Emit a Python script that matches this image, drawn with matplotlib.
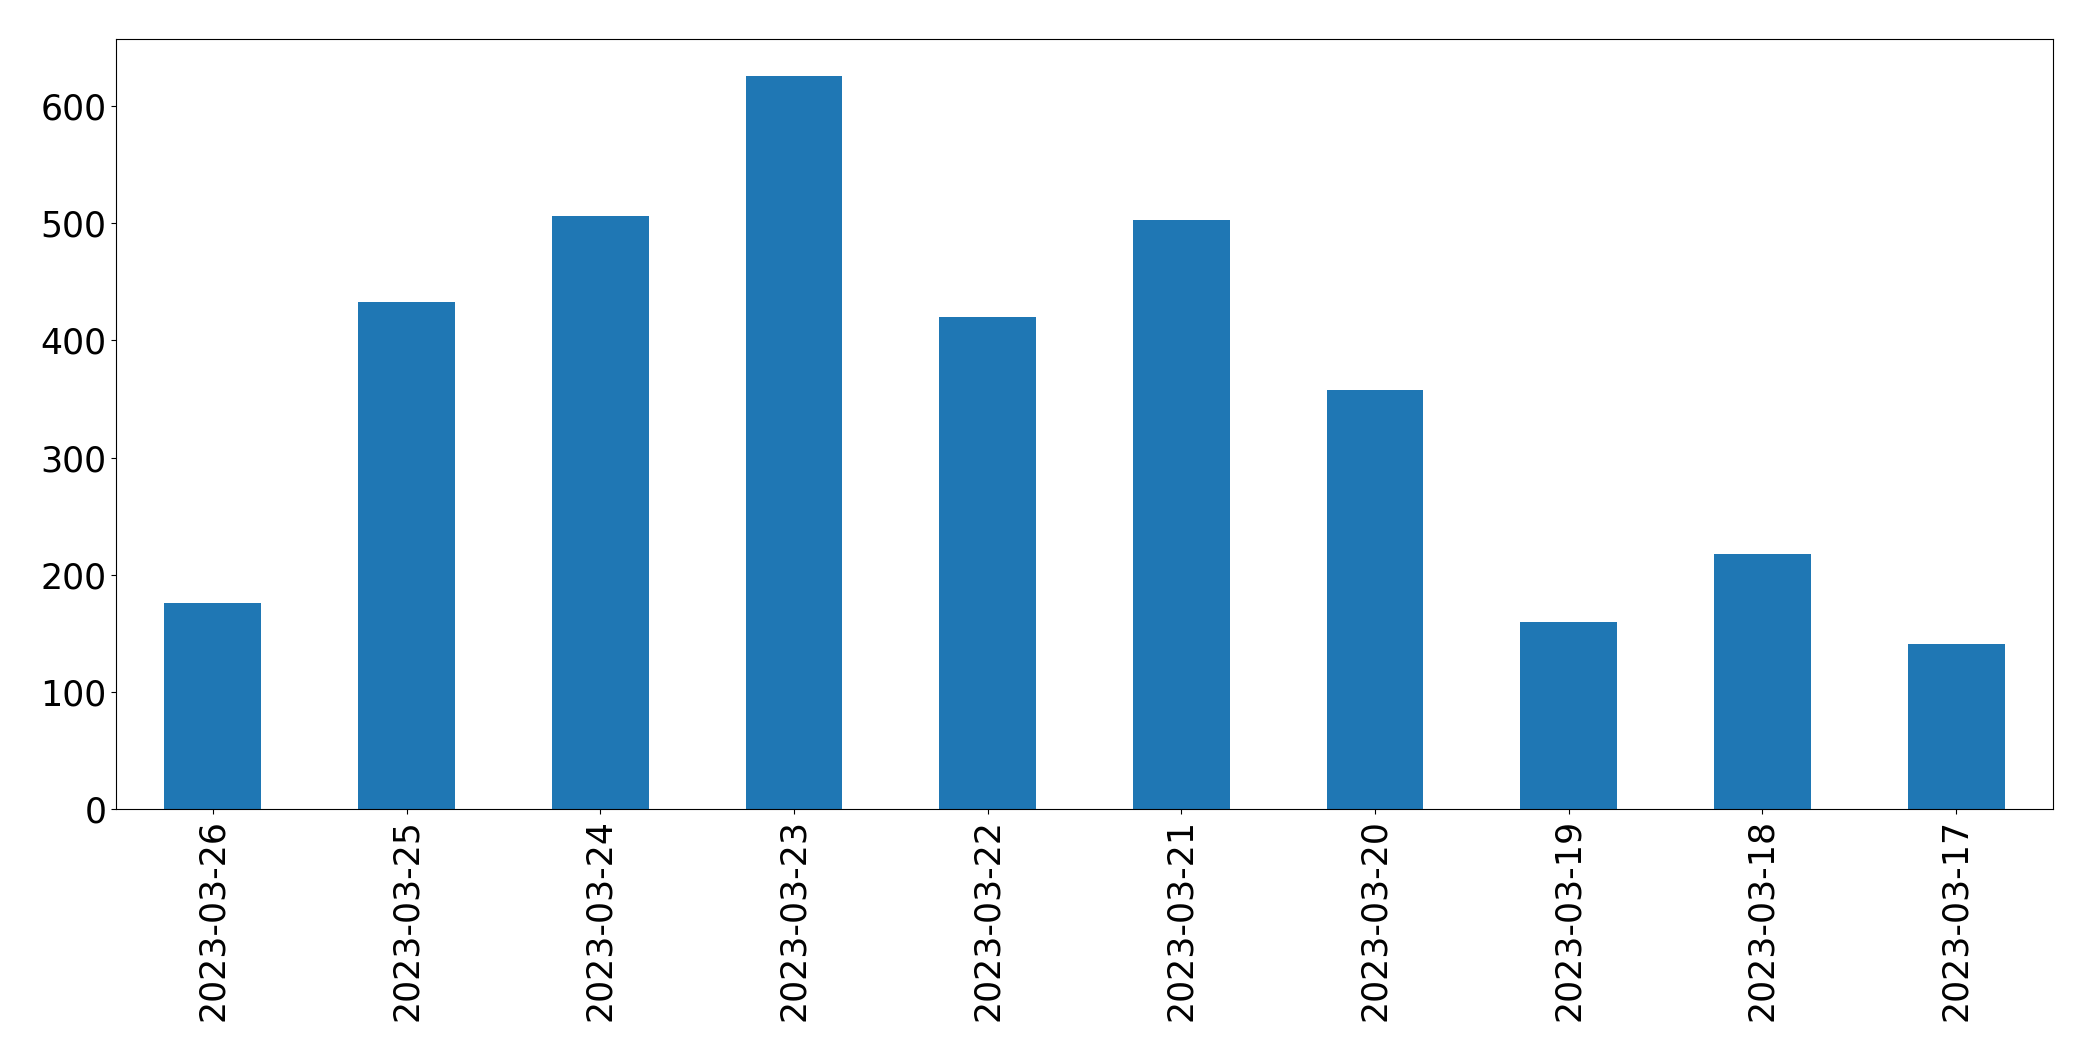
import matplotlib
matplotlib.use("Agg")
import matplotlib.pyplot as plt

# даты и количество за день
dates = ["2023-03-26", "2023-03-25", "2023-03-24", "2023-03-23", "2023-03-22",
         "2023-03-21", "2023-03-20", "2023-03-19", "2023-03-18", "2023-03-17"]
counts = [176, 433, 506, 626, 420, 503, 358, 160, 218, 141]


def drawBars(labels: list, values: list):
    fig, ax = plt.subplots(figsize=(20.93, 10.61), dpi=100)
    fig.subplots_adjust(left=116 / 2093, right=2053 / 2093,
                        top=1 - 39 / 1061, bottom=1 - 809 / 1061)
    x = list(range(len(labels)))
    ax.bar(x, values, width=0.5, color="#1f77b4")
    ax.set_xticks(x)
    ax.set_xticklabels(labels, rotation=90)
    ax.set_xlim(-0.5, len(labels) - 0.5)
    ax.set_ylim(0, max(values) * 1.05)
    ax.tick_params(labelsize=25)
    for s in ax.spines.values():
        s.set_color("black")
    fig.savefig("out.png", dpi=100)


drawBars(dates, counts)
